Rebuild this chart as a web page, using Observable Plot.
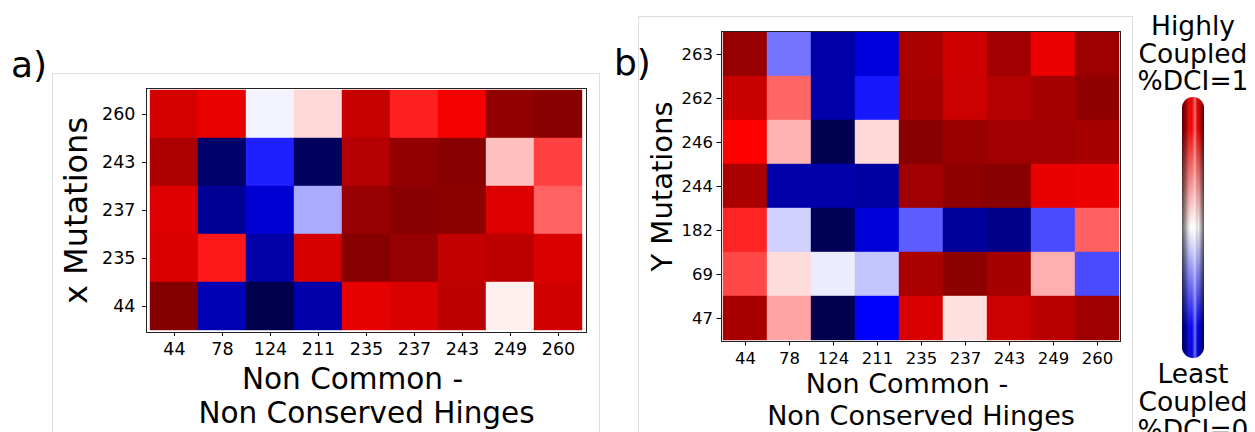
<!DOCTYPE html>
<html>
<head>
<meta charset="utf-8">
<script src="https://cdn.jsdelivr.net/npm/d3@7"></script>
<script src="https://cdn.jsdelivr.net/npm/@observablehq/plot@0.6"></script>
<style>
  html, body { margin: 0; padding: 0; background: #fff; }
  #root { position: relative; width: 1255px; height: 432px; overflow: hidden; font-family: "DejaVu Sans", sans-serif; }
  .abs { position: absolute; }
  .panelframe { position: absolute; border: 1px solid #dedede; box-sizing: border-box; }
  .plabel { position: absolute; font-size: 36px; line-height: 1; color: #000; }
</style>
</head>
<body>
<div id="root"></div>
<script>
// ---------- data ----------
const hingeCols = ["44", "78", "124", "211", "235", "237", "243", "249", "260"];

// panel a : X mutations (rows listed top to bottom)
const rowsA = ["260", "243", "237", "235", "44"];
const dciA_260 = [0.834, 0.789, 0.489, 0.538, 0.862, 0.719, 0.770, 0.964, 0.983];
const dciA_243 = [0.913, 0.041, 0.281, 0.022, 0.897, 0.960, 0.983, 0.562, 0.687];
const dciA_237 = [0.819, 0.103, 0.190, 0.417, 0.956, 0.983, 0.975, 0.819, 0.654];
const dciA_235 = [0.820, 0.726, 0.125, 0.834, 0.987, 0.956, 0.870, 0.881, 0.820];
const dciA_44  = [0.995, 0.145, 0.000, 0.131, 0.799, 0.820, 0.880, 0.515, 0.842];
const valuesA = [dciA_260, dciA_243, dciA_237, dciA_235, dciA_44];

// panel b : Y mutations (rows listed top to bottom)
const rowsB = ["263", "262", "246", "244", "182", "69", "47"];
const dciB_263 = [0.956, 0.364, 0.131, 0.201, 0.917, 0.842, 0.936, 0.783, 0.944];
const dciB_262 = [0.858, 0.650, 0.131, 0.274, 0.925, 0.850, 0.897, 0.925, 0.968];
const dciB_246 = [0.750, 0.574, 0.005, 0.538, 0.983, 0.948, 0.936, 0.936, 0.925];
const dciB_244 = [0.917, 0.131, 0.131, 0.117, 0.936, 0.972, 0.983, 0.795, 0.787];
const dciB_182 = [0.715, 0.454, 0.016, 0.195, 0.340, 0.109, 0.083, 0.323, 0.656];
const dciB_69  = [0.680, 0.534, 0.481, 0.442, 0.917, 0.975, 0.925, 0.578, 0.323];
const dciB_47  = [0.921, 0.589, 0.002, 0.250, 0.826, 0.530, 0.850, 0.889, 0.940];
const valuesB = [dciB_263, dciB_262, dciB_246, dciB_244, dciB_182, dciB_69, dciB_47];

const xTitle1 = "Non Common -";
const xTitle2 = "Non Conserved Hinges";
const yTitleA = "x Mutations";
const yTitleB = "Y Mutations";
const legendTop = ["Highly", "Coupled", "%DCI=1"];
const legendBottom = ["Least", "Coupled", "%DCI=0"];

// ---------- helpers ----------
// matplotlib "seismic"
const seismic = d3.piecewise(d3.interpolateRgb, ["rgb(0,0,77)", "rgb(0,0,255)", "rgb(255,255,255)", "rgb(255,0,0)", "rgb(128,0,0)"]);

function toCells(rows, cols, values) {
  const out = [];
  rows.forEach((r, i) => cols.forEach((c, j) => out.push({row: r, col: c, v: values[i][j]})));
  return out;
}

const root = document.getElementById("root");

function addFrame(l, t, w, h) {
  const d = document.createElement("div");
  d.className = "panelframe";
  Object.assign(d.style, {left: l + "px", top: t + "px", width: w + "px", height: h + "px"});
  root.appendChild(d);
}
function addLabel(txt, l, baseline) {
  const d = document.createElement("div");
  d.className = "plabel";
  d.textContent = txt;
  Object.assign(d.style, {left: l + "px", top: (baseline - 36 * 0.8) + "px"});
  root.appendChild(d);
}

function heatmap({rows, values, width, height, margins, tickFont, tickSize, tickPadX, tickPadY, titleFont, yTitle, yFont, yDx, dy1, dy2, dx1}) {
  const p = Plot.plot({
    width, height,
    marginLeft: margins[0], marginRight: margins[1], marginTop: margins[2], marginBottom: margins[3],
    style: {fontFamily: "DejaVu Sans", fontSize: tickFont + "px", background: "transparent", color: "#000", overflow: "visible"},
    x: {domain: hingeCols, padding: 0, tickSize, tickPadding: tickPadX, label: null},
    y: {domain: rows, padding: 0, tickSize, tickPadding: tickPadY, label: null},
    color: {type: "linear", domain: [0, 1], interpolate: seismic},
    marks: [
      Plot.cell(toCells(rows, hingeCols, values), {x: "col", y: "row", fill: "v", stroke: "v", strokeWidth: 0.4, inset: 0}),
      Plot.frame({stroke: "#222", strokeWidth: 1}),
      Plot.text([xTitle1], {frameAnchor: "bottom", lineAnchor: "middle", textAnchor: "middle", dx: dx1, dy: dy1, fontSize: titleFont, text: d => d}),
      Plot.text([xTitle2], {frameAnchor: "bottom", lineAnchor: "middle", textAnchor: "middle", dy: dy2, fontSize: titleFont, text: d => d}),
      Plot.text([yTitle], {frameAnchor: "left", lineAnchor: "middle", textAnchor: "middle", rotate: -90, dx: yDx, fontSize: yFont, text: d => d})
    ]
  });
  // enlarge axis tick labels (every text not belonging to a text mark)
  d3.select(p).selectAll("text")
    .filter(function () { return !this.closest('g[aria-label="text"]'); })
    .style("font-size", tickFont + "px")
    .style("font-family", "DejaVu Sans");
  return p;
}

// panel frames
addFrame(52, 73, 548, 420);
addFrame(638, 16, 495, 440);

// panel a
const plotA = heatmap({
  rows: rowsA, values: valuesA, width: 600, height: 432,
  margins: [146, 14, 88, 100],
  tickFont: 17.5, tickSize: 4, tickPadX: 6, tickPadY: 7,
  titleFont: 29.5, yTitle: yTitleA, yFont: 32, yDx: -70, dy1: 46.6, dy2: 80.6, dx1: -14
});
plotA.classList.add("abs");
Object.assign(plotA.style, {left: "0px", top: "0px"});
root.appendChild(plotA);

// panel b
const plotB = heatmap({
  rows: rowsB, values: valuesB, width: 540, height: 432,
  margins: [121, 20, 31, 91],
  tickFont: 16.5, tickSize: 4.5, tickPadX: 6.5, tickPadY: 4,
  titleFont: 27, yTitle: yTitleB, yFont: 29, yDx: -59, dy1: 42.4, dy2: 74.4, dx1: -14
});
plotB.classList.add("abs");
Object.assign(plotB.style, {left: "600px", top: "0px"});
root.appendChild(plotB);

addLabel("a)", 11, 76);
addLabel("b)", 614, 74);

// ---------- colour bar (tube legend) ----------
const lg = d3.create("svg").attr("width", 120).attr("height", 432)
  .attr("class", "abs").style("left", "1135px").style("top", "0px").style("overflow", "visible");
const defs = lg.append("defs");
const vg = defs.append("linearGradient").attr("id", "vgrad").attr("x1", 0).attr("y1", 0).attr("x2", 0).attr("y2", 1);
[[0, "#e80000"], [0.12, "#f20000"], [0.5, "#ffffff"], [0.88, "#0000f2"], [1, "#0000d8"]]
  .forEach(([o, c]) => vg.append("stop").attr("offset", o).attr("stop-color", c));
const hg = defs.append("linearGradient").attr("id", "hgrad").attr("x1", 0).attr("y1", 0).attr("x2", 1).attr("y2", 0);
[[0, "#000", 0.65], [0.22, "#000", 0.25], [0.45, "#fff", 0.0], [0.6, "#fff", 0.45], [0.75, "#000", 0.05], [1, "#000", 0.65]]
  .forEach(([o, c, a]) => hg.append("stop").attr("offset", o).attr("stop-color", c).attr("stop-opacity", a));
const tubeX = 1182 - 1135, tubeW = 22, tubeY = 97, tubeH = 261;
lg.append("rect").attr("x", tubeX).attr("y", tubeY).attr("width", tubeW).attr("height", tubeH).attr("rx", 11).attr("fill", "url(#vgrad)");
lg.append("rect").attr("x", tubeX).attr("y", tubeY).attr("width", tubeW).attr("height", tubeH).attr("rx", 11).attr("fill", "url(#hgrad)");
const cx = 1193 - 1135;
const topBase = [35, 63, 90];
const botBase = [383, 411, 439];
legendTop.forEach((t, i) => lg.append("text").attr("x", cx).attr("y", topBase[i]).attr("text-anchor", "middle")
  .attr("font-family", "DejaVu Sans").attr("font-size", 26.5).text(t));
legendBottom.forEach((t, i) => lg.append("text").attr("x", cx).attr("y", botBase[i]).attr("text-anchor", "middle")
  .attr("font-family", "DejaVu Sans").attr("font-size", 26.5).text(t));
root.appendChild(lg.node());
</script>
</body>
</html>
